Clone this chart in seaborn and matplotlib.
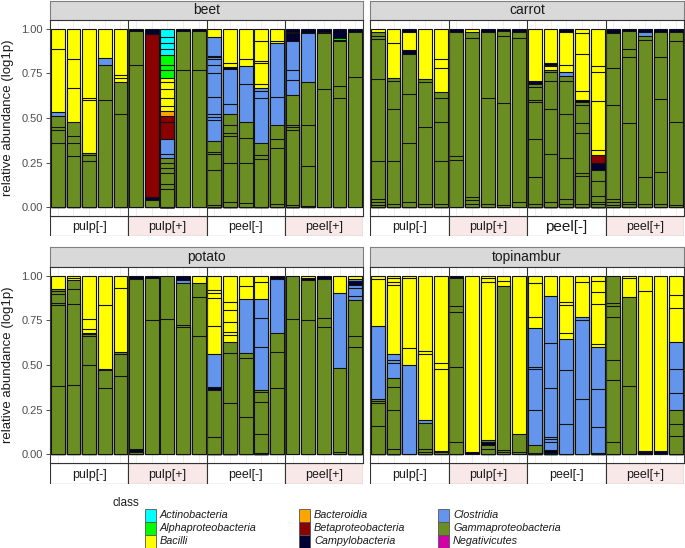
import matplotlib
matplotlib.use("Agg")
import matplotlib.pyplot as plt
from matplotlib.patches import Rectangle
import pandas as pd
import seaborn as sns

sns.set_theme(style="white")
plt.rcParams["font.family"] = ["Liberation Sans", "DejaVu Sans"]

classes = ["Actinobacteria", "Alphaproteobacteria", "Bacilli",
           "Bacteroidia", "Betaproteobacteria", "Campylobacteria",
           "Clostridia", "Gammaproteobacteria", "Negativicutes"]
codes = ["A", "L", "B", "D", "E", "C", "O", "G", "N"]
colors = ["#00ffff", "#00ff00", "#ffff00", "#ffa500", "#8b0000",
          "#000033", "#6495ed", "#6b8e23", "#d100a8"]

facets = ["beet", "carrot", "potato", "topinambur"]
groups = ["pulp[-]", "pulp[+]", "peel[-]", "peel[+]"]

# one string per bar: class code + cumulative top of each segment, bottom to top
beet = [
    "G.36 G.435 G.45 G.51 O.535 B.885 B1",
    "G.285 G.36 G.40 G.48 B.67 B.83 B1",
    "G.26 G.295 G.305 B.60 B.61 B1",
    "G.60 G.80 O.835 B1",
    "G.525 G.70 B.725 B.74 B1",
    "G.795 G.987 C1",
    "G.04 C.055 E.97 C1",
    "G.10 G.13 G.19 G.22 G.25 G.275 O.30 O.38 E.475 E.51 D.537 B.565 B.61 B.66 B.70 B.725 L.77 L.80 L.855 A.885 A.92 A.955 A1",
    "G.772 G.987 C1",
    "G.772 G.99 C1",
    "G.01 G.21 G.30 G.31 G.37 O.49 O.505 O.52 O.62 O.75 O.80 O.83 O.84 O.85 O.955 B1",
    "G.03 G.245 G.40 G.415 G.46 G.52 O.58 O.775 C.785 B.81 B1",
    "G.025 G.25 G.39 G.48 O.69 O.79 B.83 B1",
    "G.27 G.295 G.36 O.61 O.65 O.67 B.69 B.81 B.82 B.93 B1",
    "G.02 G.33 G.38 G.46 O.62 O.92 B.93 B1",
    "G.01 G.435 G.45 G.46 G.63 O.715 O.77 O.93 C.975 A.985 C1",
    "G.005 G.23 G.46 G.70 O.975 C1",
    "G.66 G.975 O.985 C1",
    "G.615 G.68 G.93 E.94 L.95 C1",
    "G.728 G.985 C1",
]
carrot = [
    "G.013 G.026 G.045 G.26 G.72 G.945 G.96 G.98 B1",
    "G.02 G.26 G.55 G.705 G.725 B.92 B1",
    "G.026 G.36 G.635 G.86 C.88 B.985 C1",
    "G.02 G.45 G.70 G.72 B1",
    "G.02 G.26 G.48 G.61 G.645 B.78 B.83 B1",
    "G.265 G.285 G.983 C1",
    "G.02 G.04 G.056 G.95 G.985 B1",
    "G.02 G.61 G.985 C1",
    "G.01 G.585 G.963 G.987 C1",
    "G.03 G.95 G.98 C1",
    "G.02 G.17 G.38 G.59 G.60 G.675 G.69 C.705 B1",
    "G.026 G.30 G.55 G.705 G.757 G.77 B.79 B.80 C.81 B1",
    "G.02 G.045 G.275 G.52 G.705 G.735 O.76 B.795 B.985 C1",
    "G.02 G.176 G.19 G.415 G.47 G.575 G.59 C.60 B.65 B.86 B.975 B1",
    "G.02 G.03 G.06 G.145 G.21 C.25 E.295 B.32 B.595 B.76 B.79 B1",
    "G.013 G.03 G.045 G.575 G.78 G.977 C1",
    "G.02 G.03 G.47 G.843 G.888 G.987 C1",
    "G.02 G.17 G.94 G.963 O.98 C1",
    "G.02 G.195 G.607 G.843 G.985 C1",
    "G.013 G.48 G.93 G.985 C1",
]
potato = [
    "G.38 G.837 G.846 G.90 G.915 G.925 B1",
    "G.39 G.843 G.925 G.977 B.987 B1",
    "G.50 G.66 G.675 B.68 B.70 B.757 B1",
    "G.37 G.472 C.48 B.837 B1",
    "G.44 G.56 G.575 B.93 B1",
    "G.013 C.026 G.98 C1",
    "G.75 G.987 C1",
    "G.757 G1",
    "G.715 G.725 G.963 O.977 C1",
    "G.663 G.884 G.963 B1",
    "G.095 G.36 C.375 O.56 B.72 B.875 B.905 B.92 B1",
    "G.285 G.565 G.627 B.67 B.687 B.743 B.81 B.856 B1",
    "G.21 G.537 G.565 O.87 B.944 B1",
    "G.005 G.11 G.295 G.35 G.36 O.60 O.762 O.87 B.964 B1",
    "G.37 G.575 G.678 O.985 C1",
    "G.757 G1",
    "G.75 G.977 C.99 B1",
    "G.715 G.762 G.98 C1",
    "G.013 G.485 O.903 B1",
    "G.60 G.665 G.865 O.885 O.93 O.95 C.97 O.98 B1",
]
topinambur = [
    "G.155 G.285 G.30 G.307 O.72 B.98 B1",
    "G.026 G.25 G.378 G.425 O.513 O.528 O.56 B.95 B.968 B.987 B1",
    "O.50 B.594 B.987 B1",
    "G.013 G.03 G.176 O.19 B.56 B.58 B1",
    "G.01 O.02 B.475 B.51 B1",
    "G.07 G.49 G.80 G.83 G.987 C1",
    "C.013 B1",
    "G.026 G.05 C.07 G.08 B.968 B.987 B1",
    "G.013 G.022 G.944 B.974 B1",
    "G.013 G.112 B1",
    "G.008 G.05 O.245 O.476 O.49 O.71 B.77 B.963 B1",
    "G.008 C.022 O.07 O.083 O.097 O.37 O.625 O.89 B1",
    "O.17 O.47 O.645 B.678 B.837 B.856 B1",
    "O.307 O.753 O.77 B.968 B1",
    "C.008 O.15 O.363 O.60 B.62 B.843 B.91 B.974 B1",
    "G.07 G.415 G.528 G.768 G.83 G.85 G1",
    "G.38 G.884 B.987 B1",
    "C.013 O.02 B.915 B1",
    "C.015 B1",
    "G.10 G.17 G.247 O.345 O.476 O.63 B.82 B.895 B1",
]

code_to_class = dict(zip(codes, classes))
pal = dict(zip(classes, colors))

rows = []
for facet, bars in zip(facets, [beet, carrot, potato, topinambur]):
    for i, bar in enumerate(bars):
        for tok in bar.split():
            rows.append((facet, f"b{i}", code_to_class[tok[0]], float(tok[1:])))
df = pd.DataFrame(rows, columns=["facet", "bar", "cls", "top"])
bar_order = [f"b{i}" for i in range(20)]

W, H = 685, 548
fig = plt.figure(figsize=(W / 100, H / 100), dpi=100)


def px_box(x0, y0, x1, y1):
    return [x0 / W, 1 - y1 / H, (x1 - x0) / W, (y1 - y0) / H]


cols = [(50, 363), (370, 684)]
rows_y = [(1, 20, 216, 236), (247, 267, 463, 484)]
pink = "#f9e8e8"

for k, facet in enumerate(facets):
    r, c = divmod(k, 2)
    x0, x1 = cols[c]
    ys, yp, yg, ye = rows_y[r]

    # facet strip
    st = fig.add_axes(px_box(x0, ys, x1, yp))
    st.set_facecolor("#d9d9d9")
    st.set_xticks([])
    st.set_yticks([])
    for s in st.spines.values():
        s.set_color("#7f7f7f")
        s.set_linewidth(0.8)
    st.text(0.5, 0.5, facet, ha="center", va="center", fontsize=10,
            color="#1a1a1a", transform=st.transAxes)

    # group strip below
    gx = fig.add_axes(px_box(x0, yg, x1, ye))
    gx.set_xlim(-0.5, 19.5)
    gx.set_ylim(0, 1)
    for j, g in enumerate(groups):
        gx.add_patch(Rectangle((j * 5 - 0.5, 0), 5, 1,
                               facecolor=pink if "+" in g else "white",
                               edgecolor="#333333", lw=0.8))
        fs = 11 if (facet == "carrot" and g == "peel[-]") else 9
        gx.text(j * 5 + 2, 0.45, g, ha="center", va="center", fontsize=fs,
                color="#1a1a1a")
    gx.set_xticks(range(20))
    gx.set_yticks([])
    gx.tick_params(axis="x", direction="in", top=True, bottom=False,
                   labeltop=False, labelbottom=False, length=3,
                   color="#8c8c8c", width=0.6)
    for s in gx.spines.values():
        s.set_visible(False)

    # stacked bars, drawn tallest-first so lower segments overlay
    ax = fig.add_axes(px_box(x0, yp, x1, yg))
    sub = df[df.facet == facet].sort_values(["bar", "top"], ascending=[True, False]).copy()
    sub["layer"] = sub.groupby("bar").cumcount()
    for lay, d in sub.groupby("layer"):
        sns.barplot(data=d, x="bar", y="top", hue="cls", order=bar_order,
                    hue_order=classes, palette=pal, dodge=False, width=0.88,
                    saturation=1, edgecolor="#111111", linewidth=0.8,
                    errorbar=None, legend=False, ax=ax)
    ax.set_xlim(-0.5, 19.5)
    ax.set_ylim(-0.05, 1.05)
    ax.set_xticks(range(20))
    ax.set_xticklabels([])
    ax.tick_params(axis="x", length=0)
    ax.grid(axis="x", color="#ebebeb", lw=0.6)
    ax.grid(axis="y", visible=False)
    ax.set_axisbelow(True)
    ax.set_xlabel("")
    ax.set_ylabel("")
    for b in [4.5, 9.5, 14.5]:
        ax.axvline(b, color="#333333", lw=0.8, zorder=5)
    for s in ax.spines.values():
        s.set_color("#333333")
        s.set_linewidth(0.8)
    if c == 0:
        ax.set_yticks([0, 0.25, 0.5, 0.75, 1.0])
        ax.set_yticklabels(["0.00", "0.25", "0.50", "0.75", "1.00"])
        ax.tick_params(axis="y", left=True, length=3, width=0.6, color="#333333",
                       labelcolor="#4d4d4d", labelsize=8, pad=2)
        fig.text(8 / W, 1 - ((yp + yg) / 2) / H, "relative abundance (log1p)",
                 rotation=90, ha="center", va="center", fontsize=9.5,
                 color="#1a1a1a")
    else:
        ax.set_yticks([])

# legend
fig.text(113 / W, 1 - 503 / H, "class", ha="left", va="center", fontsize=8.5,
         color="#1a1a1a")
key_x = [145, 299, 438]
row_top = [508.5, 521.5, 534.5]
for i, (cls, col) in enumerate(zip(classes, colors)):
    cx, ry = divmod(i, 3)
    kx, ky = key_x[cx], row_top[ry]
    fig.patches.append(Rectangle((kx / W, 1 - (ky + 13) / H), 11 / W, 13 / H,
                                 transform=fig.transFigure, facecolor=col,
                                 edgecolor="#555555", lw=0.6))
    fig.text((kx + 15) / W, 1 - (ky + 6.5) / H, cls, ha="left", va="center",
             fontsize=7.8, style="italic", color="#1a1a1a")

fig.savefig("out.png", dpi=100)
